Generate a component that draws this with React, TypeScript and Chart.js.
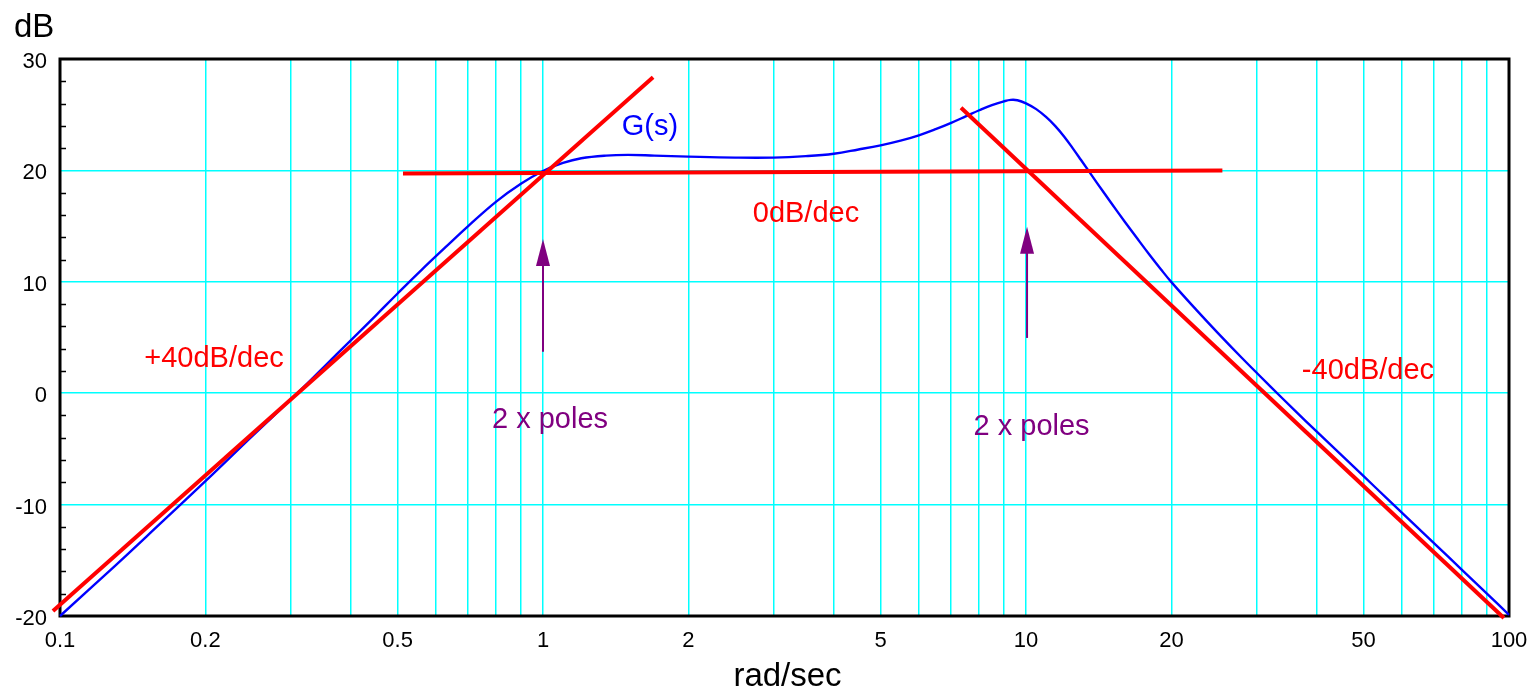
import React, { useEffect, useRef } from "react";
import { Chart, registerables } from "chart.js";

Chart.register(...registerables);

// ---- Data ----
const gFreq = [
  0.1, 0.13, 0.16, 0.2, 0.25, 0.3, 0.35, 0.4, 0.45, 0.5, 0.56, 0.63, 0.7, 0.8, 0.9,
  1.0, 1.1, 1.2, 1.35, 1.5, 1.7, 2.0, 2.5, 3.0, 3.5, 4.0, 4.5, 5.0, 5.5, 6.0, 6.5, 7.0,
  7.5, 8.0, 8.5, 9.0, 9.3, 9.6, 10.0, 10.5, 11.0, 11.5, 12.0, 12.5, 13.0, 14.0, 15.0, 16.0,
  17.0, 18.0, 19.0, 20.0, 22.5, 25.0, 28.0, 32.0, 36.0, 40.0, 45.0, 50.0, 56.0, 63.0, 70.0,
  80.0, 90.0, 100.0,
];
const gDb = [
  -20.0, -15.5, -11.85, -7.9, -3.85, -0.6, 2.25, 4.75, 6.95, 8.95, 11.05, 13.15, 15.0, 17.2, 18.8,
  19.95, 20.67, 21.09, 21.33, 21.39, 21.33, 21.24, 21.15, 21.15, 21.28, 21.5, 21.88, 22.25, 22.67, 23.15, 23.7, 24.27,
  24.85, 25.4, 25.87, 26.2, 26.33, 26.3, 26.02, 25.5, 24.8, 23.98, 23.03, 21.98, 20.93, 18.93, 17.1, 15.42,
  13.88, 12.45, 11.15, 9.97, 7.5, 5.37, 3.16, 0.64, -1.54, -3.45, -5.56, -7.45, -9.48, -11.6, -13.48,
  -15.88, -17.99, -19.9,
];

const asymUpFreq = [0.0967, 1.69];
const asymUpDb = [-19.55, 28.36];
const asymFlatFreq = [0.513, 25.5];
const asymFlatDb = [19.72, 19.99];
const asymDownFreq = [7.336, 97.6];
const asymDownDb = [25.63, -20.18];

const xGridValues = [
  0.1, 0.2, 0.3, 0.4, 0.5, 0.6, 0.7, 0.8, 0.9,
  1, 2, 3, 4, 5, 6, 7, 8, 9,
  10, 20, 30, 40, 50, 60, 70, 80, 90, 100,
];
const xTickLabels = ["0.1", "0.2", "0.5", "1", "2", "5", "10", "20", "50", "100"];
const yTickValues = [-20, -10, 0, 10, 20, 30];
const yMinorTicks = [-18, -16, -14, -12, -8, -6, -4, -2, 2, 4, 6, 8, 12, 14, 16, 18, 22, 24, 26, 28];

const arrowFreq = [1.0, 10.05];
const arrowTipDb = [13.84, 14.95];
const arrowBaseDb = [3.73, 4.96];

const labelTexts = ["G(s)", "0dB/dec", "+40dB/dec", "-40dB/dec", "2 x poles", "2 x poles"];
const labelFreq = [1.665, 3.503, 0.2084, 51.05, 1.034, 10.27];
const labelDb = [24.08, 16.27, 3.25, 2.17, -2.23, -2.81];
const labelColors = ["#0000ff", "#ff0000", "#ff0000", "#ff0000", "#800080", "#800080"];

const FONT = '"Liberation Sans", Arial, Helvetica, sans-serif';
const PURPLE = "#800080";

const toPoints = (xs: number[], ys: number[]) => xs.map((x, i) => ({ x, y: ys[i] }));

const overlayPlugin = {
  id: "overlay",
  beforeDatasetsDraw(chart: any) {
    const { ctx, chartArea: a, scales } = chart;
    const x = scales.x;
    const y = scales.y;
    ctx.save();
    // minor y ticks (inside, left)
    ctx.strokeStyle = "#000";
    ctx.lineWidth = 1.5;
    for (const v of yMinorTicks) {
      const py = Math.round(y.getPixelForValue(v)) + 0.5;
      ctx.beginPath();
      ctx.moveTo(a.left, py);
      ctx.lineTo(a.left + 6, py);
      ctx.stroke();
    }
    // frame
    ctx.lineWidth = 3;
    ctx.strokeRect(a.left, a.top, a.right - a.left, a.bottom - a.top);
    // tick labels
    ctx.fillStyle = "#000";
    ctx.font = `22px ${FONT}`;
    ctx.textAlign = "center";
    ctx.textBaseline = "alphabetic";
    for (const t of xTickLabels) {
      ctx.fillText(t, x.getPixelForValue(parseFloat(t)), a.bottom + 31);
    }
    ctx.textAlign = "right";
    for (const v of yTickValues) {
      ctx.fillText(String(v), a.left - 13, y.getPixelForValue(v) + 9);
    }
    // axis titles
    ctx.font = `33px ${FONT}`;
    ctx.textAlign = "left";
    ctx.fillText("dB", 14, 37);
    ctx.font = `33px ${FONT}`;
    ctx.textAlign = "center";
    ctx.fillText("rad/sec", (a.left + a.right) / 2 + 3, 686);
    ctx.restore();
  },
  afterDatasetsDraw(chart: any) {
    const { ctx, scales } = chart;
    const x = scales.x;
    const y = scales.y;
    ctx.save();
    // arrows
    ctx.strokeStyle = PURPLE;
    ctx.fillStyle = PURPLE;
    for (let i = 0; i < arrowFreq.length; i++) {
      const px = x.getPixelForValue(arrowFreq[i]);
      const tip = y.getPixelForValue(arrowTipDb[i]);
      const base = y.getPixelForValue(arrowBaseDb[i]);
      const headLen = 27;
      const headHalf = 7;
      ctx.lineWidth = 2;
      ctx.beginPath();
      ctx.moveTo(px, base);
      ctx.lineTo(px, tip + headLen - 1);
      ctx.stroke();
      ctx.beginPath();
      ctx.moveTo(px, tip);
      ctx.lineTo(px - headHalf, tip + headLen);
      ctx.lineTo(px + headHalf, tip + headLen);
      ctx.closePath();
      ctx.fill();
    }
    // text labels
    ctx.font = `29px ${FONT}`;
    ctx.textAlign = "center";
    ctx.textBaseline = "alphabetic";
    for (let i = 0; i < labelTexts.length; i++) {
      ctx.fillStyle = labelColors[i];
      ctx.fillText(labelTexts[i], x.getPixelForValue(labelFreq[i]), y.getPixelForValue(labelDb[i]) + 10);
    }
    ctx.restore();
  },
};

export default function App() {
  const canvasRef = useRef<HTMLCanvasElement | null>(null);

  useEffect(() => {
    const canvas = canvasRef.current;
    if (!canvas) return;
    const redLine = (xs: number[], ys: number[]) => ({
      data: toPoints(xs, ys),
      borderColor: "#ff0000",
      borderWidth: 4,
      pointRadius: 0,
      fill: false,
      clip: false as any,
      tension: 0,
    });
    const chart = new Chart(canvas, {
      type: "line",
      data: {
        datasets: [
          redLine(asymUpFreq, asymUpDb),
          redLine(asymFlatFreq, asymFlatDb),
          redLine(asymDownFreq, asymDownDb),
          {
            data: toPoints(gFreq, gDb),
            borderColor: "#0000ff",
            borderWidth: 2.4,
            pointRadius: 0,
            fill: false,
            tension: 0.4,
            clip: false as any,
          },
        ],
      },
      options: {
        animation: false,
        responsive: false,
        devicePixelRatio: 1,
        events: [],
        layout: { padding: { left: 60, top: 59, right: 24, bottom: 73 } },
        plugins: {
          legend: { display: false },
          tooltip: { enabled: false },
          title: { display: false },
        },
        scales: {
          x: {
            type: "logarithmic",
            min: 0.1,
            max: 100,
            ticks: { display: false },
            border: { display: false },
            grid: {
              drawTicks: false,
              lineWidth: 1.5,
              color: (c: any) =>
                c.tick && (c.tick.value === 0.1 || c.tick.value === 100) ? "rgba(0,0,0,0)" : "#00ffff",
            },
            afterBuildTicks: (s: any) => {
              s.ticks = xGridValues.map((v) => ({ value: v }));
            },
            afterFit: (s: any) => {
              s.height = 0;
            },
          },
          y: {
            type: "linear",
            min: -20,
            max: 30,
            ticks: { display: false },
            border: { display: false },
            grid: {
              drawTicks: false,
              lineWidth: 1.5,
              color: (c: any) =>
                c.tick && (c.tick.value === -20 || c.tick.value === 30) ? "rgba(0,0,0,0)" : "#00ffff",
            },
            afterBuildTicks: (s: any) => {
              s.ticks = yTickValues.map((v) => ({ value: v }));
            },
            afterFit: (s: any) => {
              s.width = 0;
            },
          },
        },
      } as any,
      plugins: [overlayPlugin as any],
    });
    return () => chart.destroy();
  }, []);

  return (
    <div style={{ position: "fixed", left: 0, top: 0, width: 1533, height: 689, background: "#fff" }}>
      <canvas ref={canvasRef} width={1533} height={689} style={{ display: "block" }} />
    </div>
  );
}
